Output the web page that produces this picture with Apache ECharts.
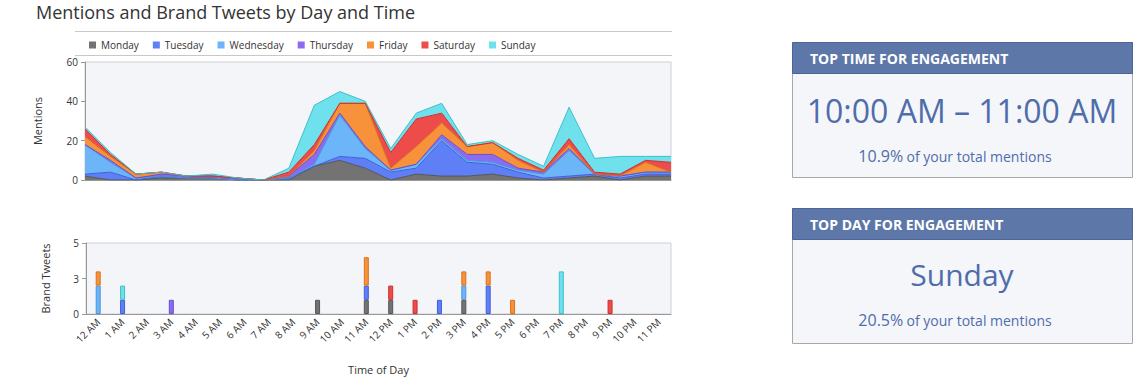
<!DOCTYPE html>
<html>
<head>
<meta charset="utf-8">
<script src="https://cdn.jsdelivr.net/npm/echarts@6/dist/echarts.min.js"></script>
<style>
html,body{margin:0;padding:0;background:#fff;}
#c{width:1141px;height:388px;}
</style>
</head>
<body>
<div id="c"></div>
<script>
const hours = ['12 AM','1 AM','2 AM','3 AM','4 AM','5 AM','6 AM','7 AM','8 AM','9 AM','10 AM','11 AM','12 PM','1 PM','2 PM','3 PM','4 PM','5 PM','6 PM','7 PM','8 PM','9 PM','10 PM','11 PM'];
const days = ['Monday','Tuesday','Wednesday','Thursday','Friday','Saturday','Sunday'];
const dayColors = ['#737373','#5e7ff6','#6cb5f8','#8a6cf1','#f7913a','#ee4b4b','#6fe1ec'];
const dayBorders = ['#555555','#3f5fd8','#4a95d8','#6a4cd0','#d8721c','#cc2e2e','#3fbfcc'];

// Mentions per hour, per day
const mentionsMonday    = [2,0,0,1,1,1,0,0,0,7,10,6,0,3,2,2,3,1,0,1,2,0,2,2];
const mentionsTuesday   = [1,4,0,1,0,0,0,0,1,0,2,5,4,3,18,7,5,3,1,1,1,1,1,1];
const mentionsWednesday = [15,5,1,0,0,0,0,0,0,1,21,5,1,2,1,1,1,1,2,13,0,1,1,1];
const mentionsThursday  = [0,1,0,1,1,1,1,0,1,5,1,1,0,0,2,3,4,1,1,1,0,0,0,0];
const mentionsFriday    = [4,2,2,1,0,0,0,0,0,2,5,22,1,9,6,4,6,4,0,2,0,0,5,0];
const mentionsSaturday  = [4,1,0,0,0,0,0,0,2,3,0,0,8,14,5,0,0,1,1,3,1,1,1,5];
const mentionsSunday    = [1,1,0,0,0,1,0,0,2,20,6,1,2,3,5,1,1,2,2,16,7,9,2,3];

// Brand tweets per hour, per day
const tweetsMonday    = [0,0,0,0,0,0,0,0,0,1,0,1,1,0,0,1,0,0,0,0,0,0,0,0];
const tweetsTuesday   = [0,1,0,0,0,0,0,0,0,0,0,1,0,0,1,0,2,0,0,0,0,0,0,0];
const tweetsWednesday = [2,0,0,0,0,0,0,0,0,0,0,0,0,0,0,1,0,0,0,0,0,0,0,0];
const tweetsThursday  = [0,0,0,1,0,0,0,0,0,0,0,0,0,0,0,0,0,0,0,0,0,0,0,0];
const tweetsFriday    = [1,0,0,0,0,0,0,0,0,0,0,2,0,0,0,1,1,1,0,0,0,0,0,0];
const tweetsSaturday  = [0,0,0,0,0,0,0,0,0,0,0,0,1,1,0,0,0,0,0,0,0,1,0,0];
const tweetsSunday    = [0,1,0,0,0,0,0,0,0,0,0,0,0,0,0,0,0,0,0,3,0,0,0,0];

const mentionsTicks = [0,20,40,60];
const tweetsTicks = [0,2.5,5];

const mentions = [mentionsMonday,mentionsTuesday,mentionsWednesday,mentionsThursday,mentionsFriday,mentionsSaturday,mentionsSunday];
const tweets = [tweetsMonday,tweetsTuesday,tweetsWednesday,tweetsThursday,tweetsFriday,tweetsSaturday,tweetsSunday];

const FONT = '"Open Sans", sans-serif';
const panelBlue = '#4f6daa';

const series = [];
days.forEach((d,i)=>{
  series.push({
    name:d, type:'line', stack:'mentions', xAxisIndex:0, yAxisIndex:0,
    data: mentions[i], showSymbol:false, symbol:'none',
    color: dayColors[i],
    lineStyle:{width:1, color:dayBorders[i]},
    areaStyle:{color:dayColors[i], opacity:1},
    silent:true
  });
});
days.forEach((d,i)=>{
  series.push({
    name:d, type:'bar', stack:'tweets', xAxisIndex:1, yAxisIndex:1,
    data: tweets[i].map(v=> v===0 ? null : v),
    barWidth:5, color: dayColors[i],
    itemStyle:{color:dayColors[i], borderColor:dayBorders[i], borderWidth:1},
    silent:true
  });
});

function panel(y, head, big, bigSize, pct, bigY, subY){
  return [
    {type:'rect', shape:{x:792.5,y:y+0.5,width:340,height:135}, style:{fill:'#f5f6fa', stroke:'#a8a8a8', lineWidth:1}},
    {type:'rect', shape:{x:792.5,y:y+0.5,width:340,height:31}, style:{fill:'#5d77a9', stroke:'#4c649a', lineWidth:1}},
    {type:'text', x:810, y:y+16, style:{text:head, fill:'#fff', font:'bold 14px '+FONT, textVerticalAlign:'middle', textAlign:'left'}},
    {type:'text', x:962, y:bigY, style:{text:big, fill:panelBlue, font:bigSize+'px '+FONT, textAlign:'center', textVerticalAlign:'middle'}},
    {type:'text', x:955, y:subY, style:{text:'{a|'+pct+'} {b|of your total mentions}', textAlign:'center', textVerticalAlign:'middle', fill:panelBlue,
      rich:{a:{fontSize:16, fontFamily:FONT, fill:panelBlue, color:panelBlue}, b:{fontSize:14, fontFamily:FONT, fill:panelBlue, color:panelBlue}}}}
  ];
}

const chart = echarts.init(document.getElementById('c'), null, {renderer:'svg'});
chart.setOption({
  animation:false,
  backgroundColor:'#fff',
  textStyle:{fontFamily:FONT},
  title:{text:'Mentions and Brand Tweets by Day and Time', left:31, top:-2,
    textStyle:{fontSize:18, fontWeight:'normal', color:'#333', fontFamily:FONT}},
  legend:{
    data:days, top:35, left:84, icon:'rect', itemWidth:7, itemHeight:7, itemGap:14,
    textStyle:{fontSize:10, color:'#333', fontFamily:FONT}
  },
  grid:[
    {left:85, right:470, top:62, height:118, show:true, backgroundColor:'#f4f5f9', borderColor:'#cfcfd4', borderWidth:1},
    {left:86, right:470, top:243, height:71, show:true, backgroundColor:'#f4f5f9', borderColor:'#cfcfd4', borderWidth:1}
  ],
  xAxis:[
    {type:'category', gridIndex:0, data:hours, boundaryGap:false,
      axisLine:{lineStyle:{color:'#999'}}, axisTick:{show:false}, axisLabel:{show:false}, splitLine:{show:false}},
    {type:'category', gridIndex:1, data:hours, boundaryGap:true,
      name:'Time of Day', nameLocation:'middle', nameGap:50,
      nameTextStyle:{fontSize:11, color:'#333', fontFamily:FONT},
      axisLine:{lineStyle:{color:'#999'}}, axisTick:{show:false},
      axisLabel:{rotate:45, interval:0, fontSize:10, color:'#333', fontFamily:FONT, margin:6},
      splitLine:{show:false}}
  ],
  yAxis:[
    {type:'value', gridIndex:0, min:mentionsTicks[0], max:mentionsTicks[mentionsTicks.length-1], interval:20,
      name:'Mentions', nameLocation:'middle', nameGap:42,
      nameTextStyle:{fontSize:11, color:'#333', fontFamily:FONT},
      axisLine:{show:true, lineStyle:{color:'#999'}}, axisTick:{show:true, length:4, lineStyle:{color:'#999'}},
      axisLabel:{fontSize:10, color:'#333', fontFamily:FONT, margin:7}, splitLine:{show:false}},
    {type:'value', gridIndex:1, min:tweetsTicks[0], max:tweetsTicks[tweetsTicks.length-1], interval:2.5,
      name:'Brand Tweets', nameLocation:'middle', nameGap:35,
      nameTextStyle:{fontSize:11, color:'#333', fontFamily:FONT},
      axisLine:{show:true, lineStyle:{color:'#999'}}, axisTick:{show:true, length:4, lineStyle:{color:'#999'}},
      axisLabel:{fontSize:10, color:'#333', fontFamily:FONT, margin:7, formatter:v=>String(Math.round(v))}, splitLine:{show:false}}
  ],
  series: series,
  graphic:[
    {type:'line', shape:{x1:75,y1:31.5,x2:672,y2:31.5}, style:{stroke:'#c8c8c8', lineWidth:1}},
    {type:'line', shape:{x1:75,y1:55.5,x2:672,y2:55.5}, style:{stroke:'#c8c8c8', lineWidth:1}},
    ...panel(42,'TOP TIME FOR ENGAGEMENT','10:00 AM \u2013 11:00 AM',32,'10.9%',110,156),
    ...panel(208,'TOP DAY FOR ENGAGEMENT','Sunday',30,'20.5%',274,320)
  ]
});
</script>
</body>
</html>
